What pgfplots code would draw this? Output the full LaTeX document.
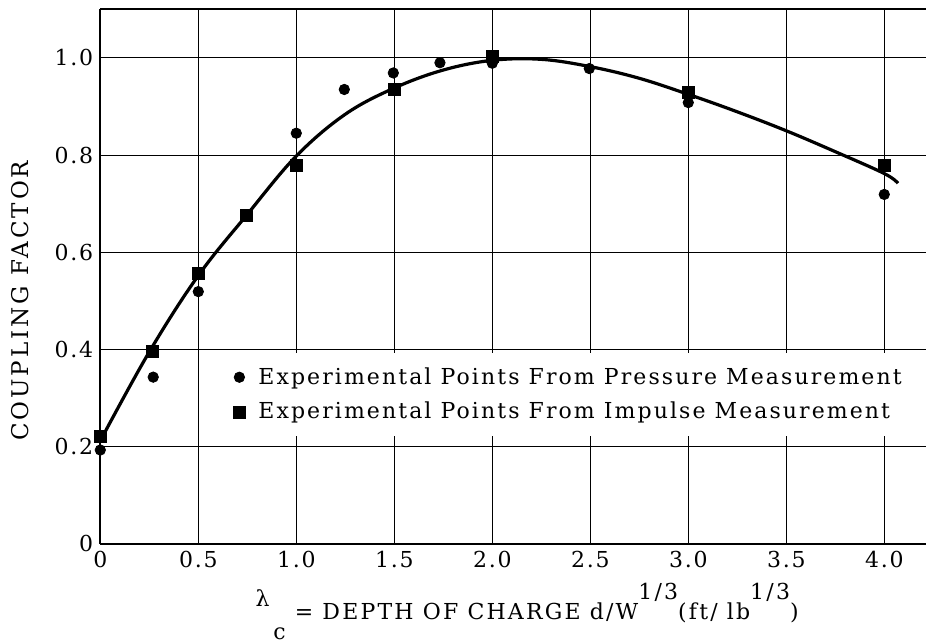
\documentclass[border=0pt]{standalone}
\usepackage{fontspec}
\setmainfont{DejaVu Serif}[LetterSpace=8]
\usepackage{pgfplots}
\pgfplotsset{compat=1.18}
\pgfplotstableread{
x y
0 0.193
0.27 0.343
0.5 0.519
1.0 0.845
1.245 0.935
1.495 0.969
1.733 0.990
2.0 0.989
2.495 0.978
3.0 0.908
4.0 0.719
}\pressure
\pgfplotstableread{
x y
0 0.220
0.264 0.395
0.5 0.557
0.743 0.675
1.0 0.779
1.5 0.935
2.0 1.004
3.0 0.930
4.0 0.778
}\impulse
\pgfplotstableread{
x y
0 0.212
0.25 0.395
0.5 0.552
0.75 0.678
1.0 0.798
1.25 0.884
1.5 0.938
1.75 0.975
2.0 0.995
2.25 0.997
2.5 0.982
2.75 0.958
3.0 0.925
3.25 0.889
3.5 0.850
3.75 0.807
4.0 0.762
4.07 0.742
}\curve
\begin{document}
\begin{tikzpicture}
\useasboundingbox (-50.15pt,-49.1pt) rectangle (412.85pt,271.9pt);
\begin{axis}[
  at={(0,0)}, anchor=south west,
  scale only axis, width=412.85pt, height=267.25pt,
  xmin=0, xmax=4.213, ymin=0, ymax=1.1,
  axis y line*=left,
  axis line style={line width=1pt},
  xtick={0,0.5,1,1.5,2,2.5,3,3.5,4},
  xticklabels={0,0.5,1.0,1.5,2.0,2.5,3.0,3.5,4.0},
  ytick={0,0.2,0.4,0.6,0.8,1.0},
  yticklabels={0,0.2,0.4,0.6,0.8,1.0},
  major tick length=0pt,
  grid=major,
  major grid style={black, line width=0.5pt},
  tick label style={font=\fontsize{11}{13}\selectfont},
  xlabel={\raisebox{6.5pt}{λ}\,\raisebox{-10pt}{c} = DEPTH OF CHARGE d/W\raisebox{10pt}{1/3}(ft/ lb\raisebox{10pt}{1/3})},
  xlabel style={at={(axis description cs:0.517,-0.1420)}, anchor=base,
    font=\fontsize{11}{13}\selectfont\addfontfeatures{LetterSpace=10}},
  ylabel={COUPLING FACTOR},
  ylabel style={at={(axis description cs:-0.0872,0.4546)}, anchor=base,
    font=\fontsize{11.5}{13}\selectfont\addfontfeatures{LetterSpace=13}},
  legend style={at={(axis description cs:0.151,0.357)}, anchor=north west,
    fill=white, draw=none, font=\fontsize{11}{13}\selectfont\addfontfeatures{LetterSpace=9.5},
    row sep=3.5pt, inner xsep=4pt, inner ysep=5pt},
  legend cell align=left,
  legend image code/.code={\draw[#1] plot coordinates {(0pt,0pt)}; \path[draw=none] (0pt,0pt) (7.5pt,0pt);},
]
\addplot[black, line width=1.6pt, smooth, tension=0.6, forget plot] table {\curve};
\addplot[only marks, mark=*, mark size=2.6pt, black] table {\pressure};
\addlegendentry{Experimental Points From Pressure Measurement}
\addplot[only marks, mark=square*, mark size=3pt, black] table {\impulse};
\addlegendentry{Experimental Points From Impulse Measurement}
\end{axis}
\end{tikzpicture}
\end{document}
